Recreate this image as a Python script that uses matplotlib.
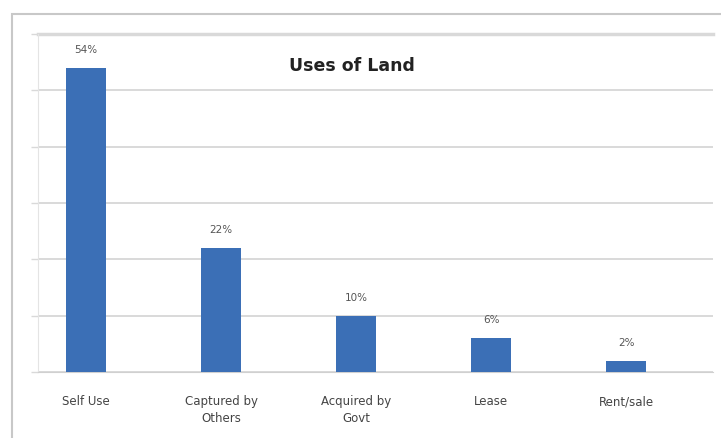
import matplotlib
matplotlib.use("Agg")
import matplotlib.pyplot as plt
from matplotlib.patches import Rectangle

categories = ["Self Use", "Captured by\nOthers", "Acquired by\nGovt", "Lease", "Rent/sale"]
shares = [54, 22, 10, 6, 2]
value_labels = ["54%", "22%", "10%", "6%", "2%"]
y_ticks = [0, 10, 20, 30, 40, 50, 60]

W, H = 721, 439
fig = plt.figure(figsize=(W / 100, H / 100), dpi=100)
fig.patch.set_facecolor("white")

# chart frame
fig.patches.append(Rectangle((12 / W, -0.1), 1.2, (H - 15) / H + 0.1, transform=fig.transFigure,
                             facecolor="none", edgecolor="#c8c8c8", linewidth=1.5, zorder=-1))

left, right, top, bottom = 38, 713, 35, 373
ax = fig.add_axes([left / W, 1 - bottom / H, (right - left) / W, (bottom - top) / H])
ax.set_facecolor("white")

x = list(range(len(categories)))
ax.bar(x, shares, width=0.3, color="#3b6fb6", zorder=3)
for xi, v, lab in zip(x, shares, value_labels):
    ax.annotate(lab, (xi, v), xytext=(0, 10), textcoords="offset points",
                ha="center", va="bottom", fontsize=7.5, color="#555555")

ax.set_xlim(-0.356, 4.644)
ax.set_ylim(0, 60)
ax.set_yticks(y_ticks)
ax.set_yticklabels([])
ax.yaxis.grid(True, color="#d9d9d9", linewidth=1.4, zorder=0)
ax.tick_params(axis="y", length=5, color="#d9d9d9", width=1)
ax.set_xticks(x)
ax.set_xticklabels(categories, fontsize=8.5, color="#444444", linespacing=1.35)
ax.tick_params(axis="x", length=0, pad=16)
for side in ["top", "right"]:
    ax.spines[side].set_visible(False)
ax.spines["left"].set_color("#e4e4e4")
ax.spines["bottom"].set_color("#d0d0d0")
ax.axhline(60, color="#d9d9d9", linewidth=2.5, clip_on=False, zorder=0)

ax.set_title("Uses of Land", fontsize=12.5, fontweight="bold", color="#222222",
             x=(352 - left) / (right - left), y=0.87)

fig.savefig("out.png", dpi=100)
